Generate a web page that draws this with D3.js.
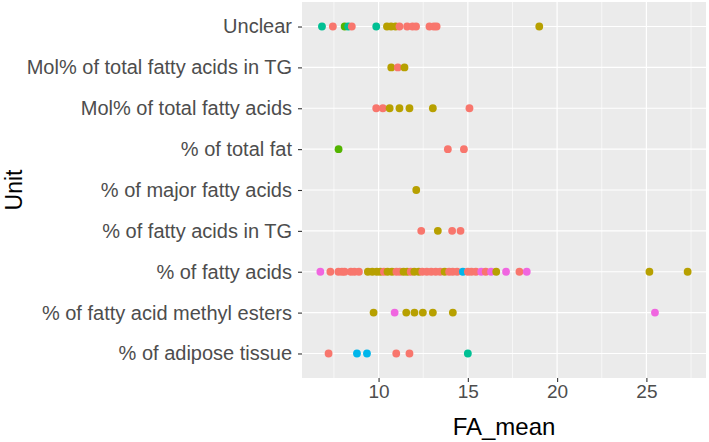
<!DOCTYPE html>
<html><head><meta charset="utf-8">
<script src="https://cdn.jsdelivr.net/npm/d3@7"></script>
<style>body{margin:0;background:#fff}svg{display:block}text{font-family:"Liberation Sans",Arial,sans-serif}</style>
</head><body><svg id="c" width="709" height="442"></svg>
<script>
const units = ["% of adipose tissue","% of fatty acid methyl esters","% of fatty acids","% of fatty acids in TG","% of major fatty acids","% of total fat","Mol% of total fatty acids","Mol% of total fatty acids in TG","Unclear"];
const groupNames = ["g1","g2","g3","g4","g5","g6"];
const groupColors = ["#F8766D","#B7A000","#53B400","#00C094","#00B6EB","#F066E0"];
const xTicks = [10,15,20,25];
const xMinor = [7.5,12.5,17.5,22.5,27.5];

const unclearVals = [[6.83,"g4"],[7.44,"g1"],[8.1,"g3"],[8.3,"g4"],[8.5,"g1"],[9.87,"g4"],[10.47,"g2"],[10.7,"g2"],[10.95,"g2"],[11.17,"g1"],[11.6,"g1"],[11.9,"g1"],[12.1,"g1"],[12.85,"g1"],[13.1,"g1"],[13.25,"g1"],[19.0,"g2"]];
const molTGVals = [[10.71,"g2"],[11.08,"g1"],[11.45,"g2"]];
const molTotalVals = [[9.87,"g1"],[10.24,"g1"],[10.62,"g2"],[11.17,"g2"],[11.73,"g2"],[13.04,"g2"],[15.09,"g1"]];
const totalFatVals = [[7.76,"g3"],[13.88,"g1"],[14.78,"g1"]];
const majorVals = [[12.11,"g2"]];
const inTGVals = [[12.39,"g1"],[13.32,"g2"],[14.12,"g1"],[14.59,"g1"]];
const fattyVals = [[6.74,"g6"],[7.3,"g1"],[7.75,"g1"],[7.95,"g1"],[8.1,"g1"],[8.45,"g1"],[8.65,"g1"],[8.9,"g1"],[9.4,"g2"],[9.65,"g2"],[9.9,"g2"],[10.1,"g2"],[10.3,"g1"],[10.5,"g2"],[10.75,"g2"],[11.0,"g1"],[11.2,"g1"],[11.4,"g2"],[11.6,"g2"],[11.8,"g1"],[12.0,"g2"],[12.25,"g2"],[12.45,"g1"],[12.7,"g1"],[12.95,"g1"],[13.2,"g1"],[13.45,"g1"],[13.7,"g2"],[13.95,"g1"],[14.15,"g1"],[14.4,"g1"],[14.72,"g5"],[15.0,"g1"],[15.2,"g1"],[15.45,"g1"],[15.75,"g6"],[16.0,"g1"],[16.3,"g6"],[16.59,"g2"],[17.14,"g6"],[17.89,"g1"],[18.3,"g6"],[25.17,"g2"],[27.31,"g2"]];
const methylVals = [[9.72,"g2"],[10.9,"g6"],[11.55,"g2"],[12.01,"g2"],[12.48,"g2"],[13.04,"g2"],[14.16,"g2"],[25.48,"g6"]];
const adiposeVals = [[7.2,"g1"],[8.79,"g5"],[9.35,"g5"],[10.99,"g1"],[11.73,"g1"],[15.0,"g4"]];

const rows = [
  ["Unclear", unclearVals],["Mol% of total fatty acids in TG", molTGVals],["Mol% of total fatty acids", molTotalVals],
  ["% of total fat", totalFatVals],["% of major fatty acids", majorVals],["% of fatty acids in TG", inTGVals],
  ["% of fatty acids", fattyVals],["% of fatty acid methyl esters", methylVals],["% of adipose tissue", adiposeVals]
];
const points = [];
rows.forEach(([u, vals]) => vals.forEach(([v, g]) => points.push({unit: u, value: v, group: g})));

const P = {l: 302, r: 706, t: 2, b: 378};
const svg = d3.select("#c");
const ext = d3.extent(points, d => d.value);
const pad = (ext[1] - ext[0]) * 0.05;
const x = d3.scaleLinear().domain([ext[0] - pad, ext[1] + pad]).range([P.l, P.r]);
const y = d3.scalePoint().domain(units).range([P.b, P.t]).padding(0.6);
const color = d3.scaleOrdinal().domain(groupNames).range(groupColors);

svg.append("rect").attr("x", P.l).attr("y", P.t).attr("width", P.r - P.l).attr("height", P.b - P.t).attr("fill", "#EBEBEB");
svg.selectAll(".minor").data(xMinor).join("line").attr("x1", d => x(d)).attr("x2", d => x(d)).attr("y1", P.t).attr("y2", P.b).attr("stroke", "#fff").attr("stroke-width", 0.6);
svg.selectAll(".majx").data(xTicks).join("line").attr("x1", d => x(d)).attr("x2", d => x(d)).attr("y1", P.t).attr("y2", P.b).attr("stroke", "#fff").attr("stroke-width", 1.2);
svg.selectAll(".majy").data(units).join("line").attr("x1", P.l).attr("x2", P.r).attr("y1", d => y(d)).attr("y2", d => y(d)).attr("stroke", "#fff").attr("stroke-width", 1.2);

const xAxis = svg.append("g").attr("transform", `translate(0,${P.b})`).call(d3.axisBottom(x).tickValues(xTicks).tickSize(4).tickPadding(3));
const yAxis = svg.append("g").attr("transform", `translate(${P.l},0)`).call(d3.axisLeft(y).tickSize(4).tickPadding(6));
[xAxis, yAxis].forEach(a => {
  a.select(".domain").remove();
  a.selectAll("line").attr("stroke", "#333").attr("stroke-width", 1.1);
  a.selectAll("text").attr("fill", "#4D4D4D").style("font-family", "Liberation Sans, Arial, sans-serif");
});
xAxis.selectAll("text").style("font-size", "19px");
yAxis.selectAll("text").style("font-size", "20px");

svg.append("g").selectAll("circle").data(points).join("circle")
  .attr("cx", d => x(d.value)).attr("cy", d => y(d.unit)).attr("r", 3.9).attr("fill", d => color(d.group));

svg.append("text").attr("x", (P.l + P.r) / 2).attr("y", 435).attr("text-anchor", "middle").style("font-size", "24px").attr("fill", "#000").text("FA_mean");
svg.append("text").attr("transform", `translate(22,${(P.t + P.b) / 2}) rotate(-90)`).attr("text-anchor", "middle").style("font-size", "23px").attr("fill", "#000").text("Unit");
</script></body></html>
